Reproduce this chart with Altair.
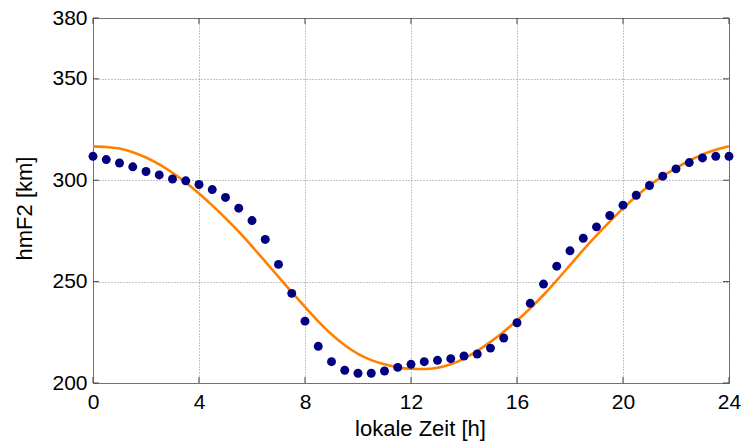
import altair as alt
import pandas as pd

# hour of day for both series (half-hour steps)
hours = [0, 0.5, 1, 1.5, 2, 2.5, 3, 3.5, 4, 4.5, 5, 5.5, 6, 6.5, 7, 7.5, 8, 8.5,
         9, 9.5, 10, 10.5, 11, 11.5, 12, 12.5, 13, 13.5, 14, 14.5, 15, 15.5, 16,
         16.5, 17, 17.5, 18, 18.5, 19, 19.5, 20, 20.5, 21, 21.5, 22, 22.5, 23,
         23.5, 24]

# measured hmF2 (dots)
measured = [311.8, 310.2, 308.5, 306.6, 304.3, 302.6, 300.6, 299.7, 297.9, 295.4,
            291.5, 286.2, 280.1, 270.8, 258.5, 244.2, 230.5, 218.1, 210.5, 206.3,
            204.8, 204.8, 205.9, 207.7, 209.2, 210.5, 211.2, 212.0, 213.3, 214.3,
            217.2, 222.2, 229.7, 239.3, 248.8, 257.6, 265.2, 271.4, 277.0, 282.6,
            287.7, 292.6, 297.4, 302.0, 305.6, 308.7, 311.0, 311.8, 311.8]

# model hmF2 (orange curve)
model = [316.7, 316.4, 315.6, 313.8, 311.2, 307.8, 303.7, 298.9, 293.5, 287.6,
         281.3, 274.6, 267.4, 259.9, 252.3, 244.8, 237.5, 230.4, 224.0, 218.6,
         214.4, 211.3, 209.2, 207.7, 207.0, 206.9, 207.5, 209.2, 212.0, 215.8,
         220.3, 225.3, 230.8, 236.8, 243.4, 250.6, 258.1, 265.6, 272.8, 279.6,
         286.1, 292.1, 297.4, 302.0, 306.0, 309.6, 312.7, 315.0, 316.7]

x_ticks = [0, 4, 8, 12, 16, 20, 24]
y_ticks = [200, 250, 300, 350, 380]

W, H = 636, 365
FONT = "Liberation Sans"

df = pd.DataFrame({"t": hours, "meas": measured, "model": model})
xt = pd.DataFrame({"t": x_ticks})
yt = pd.DataFrame({"v": y_ticks})

xscale = alt.Scale(domain=[0, 24], nice=False, zero=False)
yscale = alt.Scale(domain=[200, 380], nice=False, zero=False)

xaxis = alt.Axis(values=x_ticks, title="lokale Zeit [h]", grid=True, gridDash=[1, 2],
                 gridColor="#8a8a8a", domain=False, ticks=False, labelPadding=8,
                 labelFlush=False, labelOverlap=False,
                 labelFontSize=21, titleFontSize=22, labelFont=FONT, titleFont=FONT,
                 labelColor="black", titleColor="black", titleFontWeight="normal",
                 titleX=327, titleY=52, titleBaseline="alphabetic", titleAnchor="middle")
yaxis = alt.Axis(values=y_ticks, title="hmF2 [km]", grid=True, gridDash=[1, 2],
                 gridColor="#8a8a8a", domain=False, ticks=False, labelPadding=6,
                 labelFlush=False, labelOverlap=False,
                 labelFontSize=21, titleFontSize=22, labelFont=FONT, titleFont=FONT,
                 labelColor="black", titleColor="black", titleFontWeight="normal",
                 titleX=-69, titleY=190, titleBaseline="middle", titleAlign="center",
                 titleAngle=-90)

base = alt.Chart(df)

grid = base.mark_point(opacity=0).encode(
    x=alt.X("t:Q", scale=xscale, axis=xaxis),
    y=alt.Y("meas:Q", scale=yscale, axis=yaxis),
)

line = base.mark_line(color="#FF8000", strokeWidth=2.6, interpolate="monotone").encode(
    x=alt.X("t:Q", scale=xscale),
    y=alt.Y("model:Q", scale=yscale),
)

dots = base.mark_circle(color="#000080", opacity=1, size=80).encode(
    x=alt.X("t:Q", scale=xscale),
    y=alt.Y("meas:Q", scale=yscale),
)

tick_color = "#444"
xt_bot = alt.Chart(xt).mark_rule(color=tick_color, strokeWidth=1).encode(
    x=alt.X("t:Q", scale=xscale), y=alt.value(H), y2=alt.value(H - 6))
xt_top = alt.Chart(xt).mark_rule(color=tick_color, strokeWidth=1).encode(
    x=alt.X("t:Q", scale=xscale), y=alt.value(0), y2=alt.value(6))
yt_left = alt.Chart(yt).mark_rule(color=tick_color, strokeWidth=1).encode(
    y=alt.Y("v:Q", scale=yscale), x=alt.value(0), x2=alt.value(6))
yt_right = alt.Chart(yt).mark_rule(color=tick_color, strokeWidth=1).encode(
    y=alt.Y("v:Q", scale=yscale), x=alt.value(W - 6), x2=alt.value(W))

chart = alt.layer(grid, xt_bot, xt_top, yt_left, yt_right, line, dots).properties(
    width=W, height=H,
    autosize=alt.AutoSizeParams(type="none"),
    padding={"left": 93, "top": 18, "right": 15, "bottom": 60},
    background="white",
).configure_view(stroke="#666", strokeWidth=1)

chart.save("out.html", embed_options={"renderer": "svg", "actions": False})
